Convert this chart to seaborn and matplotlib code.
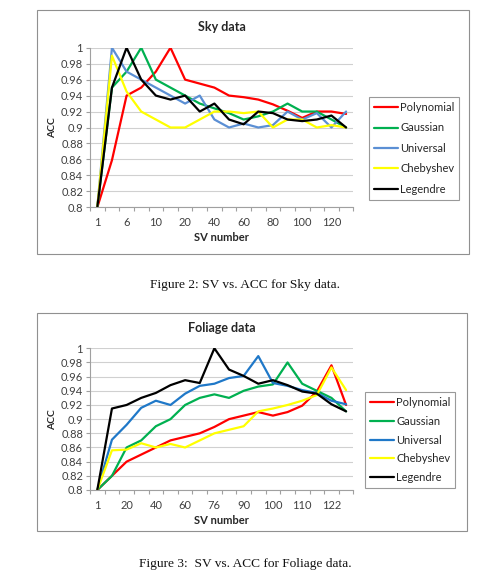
import matplotlib
matplotlib.use('Agg')
import matplotlib.pyplot as plt
import pandas as pd
import seaborn as sns
import numpy as np
from matplotlib.patches import Rectangle

# SV categories (only every other one is labelled on the axis)
sky_sv = ['1', '3', '6', '8', '10', '15', '20', '30', '40', '50', '60', '70', '80', '90', '100', '110', '120', '130']
foliage_sv = ['1', '10', '20', '30', '40', '50', '60', '70', '76', '80', '90', '95', '100', '105', '110', '116', '122', '128']

kernels = ['Polynomial', 'Gaussian', 'Universal', 'Chebyshev', 'Legendre']

# Sky data ACC
sky_poly = [0.80, 0.859, 0.94, 0.95, 0.97, 1.00, 0.96, 0.955, 0.95, 0.94, 0.938, 0.935, 0.929, 0.921, 0.912, 0.92, 0.92, 0.917]
sky_gauss = [0.80, 0.95, 0.97, 1.00, 0.96, 0.95, 0.94, 0.93, 0.924, 0.918, 0.91, 0.914, 0.92, 0.93, 0.92, 0.92, 0.91, 0.90]
sky_univ = [0.80, 1.00, 0.97, 0.96, 0.95, 0.94, 0.93, 0.94, 0.91, 0.90, 0.905, 0.90, 0.903, 0.92, 0.91, 0.918, 0.90, 0.92]
sky_cheb = [0.80, 0.99, 0.945, 0.92, 0.91, 0.90, 0.90, 0.91, 0.92, 0.92, 0.918, 0.92, 0.90, 0.91, 0.91, 0.90, 0.903, 0.90]
sky_leg = [0.80, 0.95, 1.00, 0.96, 0.94, 0.935, 0.94, 0.92, 0.93, 0.91, 0.904, 0.92, 0.918, 0.91, 0.908, 0.91, 0.915, 0.90]

# Foliage data ACC
fol_poly = [0.80, 0.82, 0.84, 0.85, 0.86, 0.87, 0.875, 0.88, 0.889, 0.90, 0.905, 0.91, 0.905, 0.91, 0.919, 0.939, 0.976, 0.92]
fol_gauss = [0.80, 0.82, 0.86, 0.87, 0.89, 0.90, 0.92, 0.93, 0.935, 0.93, 0.94, 0.946, 0.949, 0.98, 0.95, 0.94, 0.93, 0.911]
fol_univ = [0.80, 0.871, 0.892, 0.916, 0.926, 0.92, 0.936, 0.947, 0.95, 0.958, 0.961, 0.989, 0.951, 0.947, 0.941, 0.937, 0.926, 0.921]
fol_cheb = [0.80, 0.856, 0.857, 0.866, 0.86, 0.865, 0.86, 0.87, 0.88, 0.885, 0.89, 0.911, 0.915, 0.92, 0.926, 0.934, 0.973, 0.941]
fol_leg = [0.80, 0.915, 0.92, 0.93, 0.937, 0.948, 0.955, 0.951, 1.00, 0.97, 0.961, 0.95, 0.955, 0.948, 0.939, 0.936, 0.921, 0.911]

sky_colors = {'Polynomial': '#FF0000', 'Gaussian': '#00B050', 'Universal': '#5B8FD4',
              'Chebyshev': '#FFFF00', 'Legendre': '#000000'}
fol_colors = {'Polynomial': '#FF0000', 'Gaussian': '#00B050', 'Universal': '#1F78C8',
              'Chebyshev': '#FFFF00', 'Legendre': '#000000'}

sns.set_style('white')
plt.rcParams['font.family'] = ['Lato', 'DejaVu Sans']

W, H = 497, 579
fig = plt.figure(figsize=(W / 100, H / 100), dpi=100)


def px_axes(left, top, right, bottom):
    return fig.add_axes([left / W, 1 - bottom / H, (right - left) / W, (bottom - top) / H])


def long_form(sv, series):
    rows = []
    for name, vals in zip(kernels, series):
        for i, v in enumerate(vals):
            rows.append({'pos': i, 'SV': sv[i], 'ACC': v, 'kernel': name})
    return pd.DataFrame(rows)


def draw_chart(ax, sv, series, colors, title, legend_anchor, spacing):
    df = long_form(sv, series)
    sns.lineplot(data=df, x='pos', y='ACC', hue='kernel', hue_order=kernels,
                 palette=colors, linewidth=1.6, sort=False, ax=ax, legend=False)
    n = len(sv)
    ax.set_xlim(-0.5, n - 0.5)
    ax.set_ylim(0.8, 1.0)
    yt = np.round(np.arange(0.8, 1.001, 0.02), 2)
    ax.set_yticks(yt)
    ax.set_yticklabels([f'{v:g}' for v in yt])
    ax.set_xticks(range(0, n, 2))
    ax.set_xticklabels(sv[::2])
    ax.set_xticks(np.arange(-0.5, n, 1.0), minor=True)
    ax.tick_params(axis='x', which='major', length=0, pad=7, labelsize=8, labelcolor='#404040')
    ax.tick_params(axis='x', which='minor', length=3, color='#A0A0A0', width=0.8, direction='out', bottom=True)
    ax.tick_params(axis='y', length=3, color='#A0A0A0', width=0.8, direction='out', left=True,
                   labelsize=8, labelcolor='#404040', pad=2)
    ax.grid(axis='y', color='#D0D0D0', linewidth=0.8)
    ax.set_axisbelow(True)
    for s in ['top', 'right']:
        ax.spines[s].set_visible(False)
    for s in ['left', 'bottom']:
        ax.spines[s].set_color('#A0A0A0')
        ax.spines[s].set_linewidth(0.8)
    ax.set_xlabel('SV number', fontsize=8, fontweight='bold', color='#262626', labelpad=3)
    ax.set_ylabel('ACC', fontsize=7.5, fontweight='bold', color='#262626', labelpad=3)
    ax.set_title(title, fontsize=9, fontweight='bold', color='#262626', pad=12)

    handles = [plt.Line2D([], [], color=colors[k], linewidth=1.6) for k in kernels]
    leg = fig.legend(handles, kernels, loc='upper left',
                     bbox_to_anchor=(legend_anchor[0] / W, 1 - legend_anchor[1] / H),
                     fontsize=8, frameon=True, fancybox=False, handlelength=2.2,
                     handletextpad=0.15, labelspacing=spacing, borderpad=0.45,
                     borderaxespad=0)
    leg.get_frame().set_edgecolor('#808080')
    leg.get_frame().set_linewidth(0.8)
    for t in leg.get_texts():
        t.set_color('#262626')


# chart frames
fig.patches.append(Rectangle((37 / W, 1 - 254 / H), (469 - 37) / W, (254 - 10) / H,
                             transform=fig.transFigure, fill=False, edgecolor='#909090', linewidth=0.8))
fig.patches.append(Rectangle((37 / W, 1 - 531 / H), (467 - 37) / W, (531 - 313) / H,
                             transform=fig.transFigure, fill=False, edgecolor='#909090', linewidth=0.8))

ax1 = px_axes(90, 47.7, 353.4, 207.3)
draw_chart(ax1, sky_sv, [sky_poly, sky_gauss, sky_univ, sky_cheb, sky_leg],
           sky_colors, 'Sky data', (369, 97), 0.85)

ax2 = px_axes(90, 348.3, 353.4, 490)
draw_chart(ax2, foliage_sv, [fol_poly, fol_gauss, fol_univ, fol_cheb, fol_leg],
           fol_colors, 'Foliage data', (365, 392), 0.7)

fig.text(245 / W, 1 - 285 / H, 'Figure 2: SV vs. ACC for Sky data.', ha='center', va='center',
         fontsize=9.6, family='Liberation Serif', color='#111111')
fig.text(245 / W, 1 - 564 / H, 'Figure 3:  SV vs. ACC for Foliage data.', ha='center', va='center',
         fontsize=9.6, family='Liberation Serif', color='#111111')

fig.savefig('out.png', dpi=100, facecolor='white')
